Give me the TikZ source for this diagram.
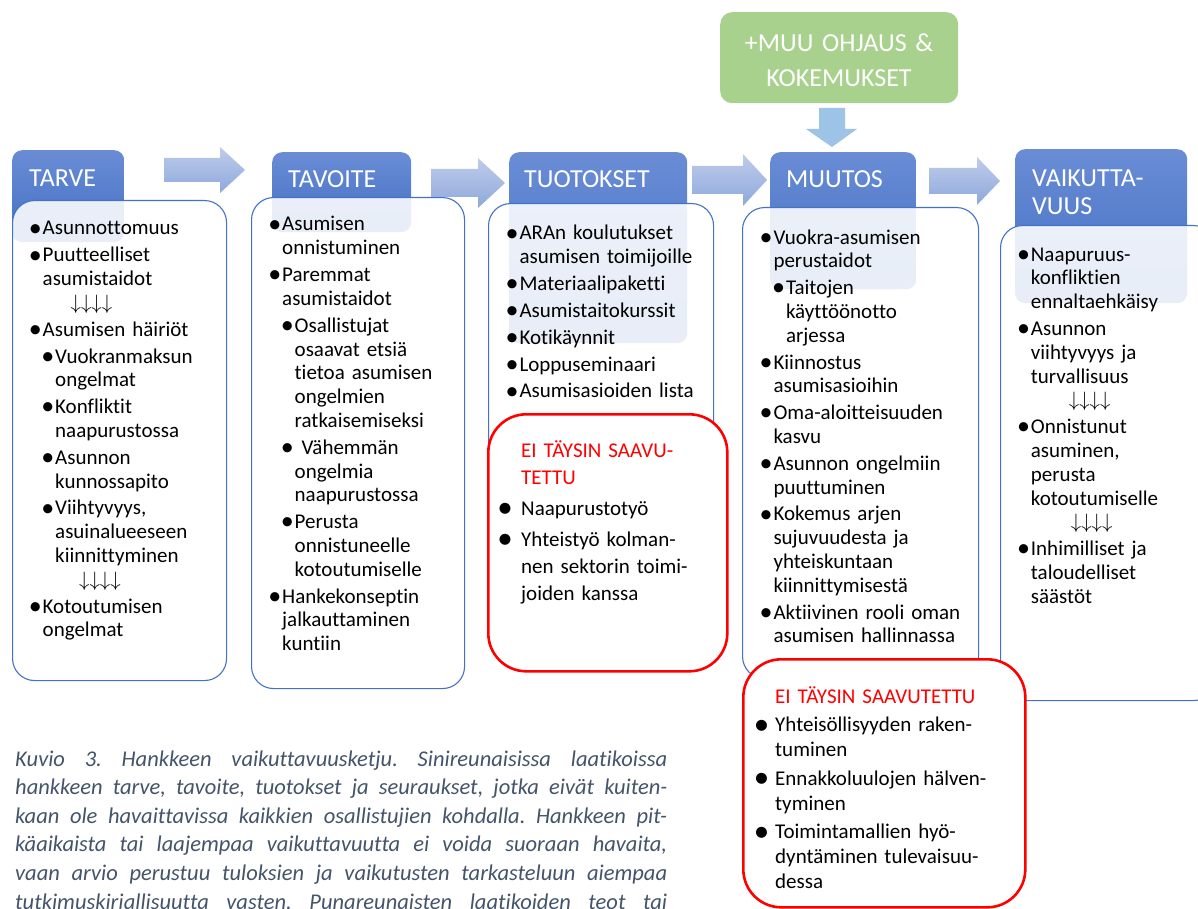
\documentclass[tikz,border=0pt]{standalone}
\usepackage{fontspec}
\setmainfont{Carlito}[Ligatures=NoCommon]
\usetikzlibrary{positioning}

\definecolor{tabtop}{HTML}{6A8CD5}
\definecolor{tabbot}{HTML}{4170C3}
\definecolor{bodyline}{HTML}{4472C4}
\definecolor{arrtop}{HTML}{BFCCEB}
\definecolor{arrbot}{HTML}{8EA8DB}
\definecolor{downarr}{HTML}{9DC3E6}
\definecolor{greenbox}{HTML}{A9D18E}
\definecolor{capcol}{HTML}{44546A}
\definecolor{eired}{HTML}{FF0000}

% bullet glyphs
\newcommand{\bul}{\raisebox{-1.3pt}{\fontsize{26}{26}\selectfont\textbullet}}
\newcommand{\rbul}{\raisebox{-2.5pt}{\fontsize{31}{31}\selectfont\textbullet}}
% bullet items: first, main level, sub level, red boxes
\newcommand{\fitm}{\leavevmode\hspace*{-7.3pt}\makebox[0pt]{\bul}\hspace*{7.3pt}\ignorespaces}
\newcommand{\itm}[1][7.3pt]{\par\noindent\hspace*{-#1}\makebox[0pt]{\bul}\hspace*{#1}\ignorespaces}
\newcommand{\sitm}[1][12.5pt]{\par\hangindent=#1\hangafter=0\noindent\hspace*{-7.3pt}\makebox[0pt]{\bul}\hspace*{7.3pt}\ignorespaces}
\newcommand{\ritm}[1]{\par\noindent\hspace*{-#1}\makebox[0pt]{\rbul}\hspace*{#1}\ignorespaces}
\newcommand{\dnarr}[1]{\newline\hspace*{#1}$\downarrow\downarrow\downarrow\downarrow$}
% shaded block arrow: tail x, head x, tip x, mid y, half shaft, half head
\newcommand{\blockarrow}[6]{%
  \shade[rarr] (#1,#4-#5) -- (#2,#4-#5) -- (#2,#4-#6) -- (#3,#4) -- (#2,#4+#6) -- (#2,#4+#5) -- (#1,#4+#5) -- cycle;}

\begin{document}
\begin{tikzpicture}[x=1pt, y=-1pt,
  tab/.style={anchor=north west, inner sep=0pt, rounded corners=10pt, top color=tabtop, bottom color=tabbot, draw=none},
  body/.style={anchor=north west, inner sep=0pt, draw=bodyline, line width=1.1pt, fill=white, fill opacity=0.88, rounded corners=22pt},
  redbox/.style={anchor=north west, inner sep=0pt, draw=eired, line width=2.6pt, fill=white, rounded corners=38pt},
  tabtxt/.style={anchor=base west, inner sep=0pt, text=white, align=left, font=\fontsize{26}{28}\selectfont},
  txt/.style={anchor=base west, inner sep=0pt, align=left, font=\fontsize{21}{23.8}\selectfont},
  redtxt/.style={txt, font=\fontsize{21}{27}\selectfont},
  captxt/.style={anchor=base west, inner sep=0pt, align=justify, text=capcol, font=\fontsize{22.5}{28.6}\selectfont\itshape\frenchspacing},
  rarr/.style={top color=arrtop, bottom color=arrbot, draw=none}
]
\useasboundingbox (0,0) rectangle (1198,909);
\fill[white] (0,0) rectangle (1198,909);

% header tabs
\node[tab, minimum width=112pt, minimum height=92pt] (tarveTab) at (12,150) {};
\node[tab, minimum width=139pt, minimum height=80pt] (tavoiteTab) at (272,152) {};
\node[tab, minimum width=178pt, minimum height=191pt] (tuotosTab) at (509,152) {};
\node[tab, minimum width=146pt, minimum height=137pt] (muutosTab) at (770,152) {};
\node[tab, minimum width=172pt, minimum height=154pt] (vaikTab) at (1015,149) {};

% body boxes
\node[body, minimum width=214pt, minimum height=480pt] (tarveBox) at (12,200) {};
\node[body, minimum width=213pt, minimum height=491pt] (tavoiteBox) at (251,197) {};
\node[body, minimum width=225pt, minimum height=457pt] (tuotosBox) at (488,203) {};
\node[body, minimum width=236pt, minimum height=471pt] (muutosBox) at (742,207) {};
\node[body, minimum width=215pt, minimum height=475pt] (vaikBox) at (1000,225) {};

% tab labels
\node[tabtxt] (tarveLbl) at (29,187) {TARVE};
\node[tabtxt] (tavoiteLbl) at (288,188) {TAVOITE};
\node[tabtxt] (tuotosLbl) at (524,188) {TUOTOKSET};
\node[tabtxt] (muutosLbl) at (786,188) {MUUTOS};
\node[tabtxt, text width=160pt] (vaikLbl) at (1032,187) {VAIKUTTA-\newline VUUS};

% block arrows between the columns
\blockarrow{164}{220}{245}{170}{12}{23}
\blockarrow{431}{478}{505}{183}{14}{25}
\blockarrow{692}{743}{767}{180}{14}{26}
\blockarrow{929}{977}{1000}{181}{13}{24}

% box texts
\node[txt, text width=190pt] (tarveTxt) at (42.5,235) {\parskip=3pt
\fitm Asunnottomuus
\itm Puutteelliset\newline asumistaidot\dnarr{28pt}
\itm Asumisen häiriöt
\sitm Vuokranmaksun\newline ongelmat
\sitm Konfliktit\newline naapurustossa
\sitm Asunnon\newline kunnossapito
\sitm Viihtyvyys,\newline asuinalueeseen\newline kiinnittyminen\dnarr{24pt}
\sitm Kotoutumisen\newline ongelmat};

\node[txt, text width=190pt] (tavoiteTxt) at (282,231) {\parskip=3pt
\fitm Asumisen\newline onnistuminen
\itm Paremmat\newline asumistaidot
\sitm Osallistujat\newline osaavat etsiä\newline tietoa asumisen\newline ongelmien\newline ratkaisemiseksi
\sitm\ Vähemmän\newline ongelmia\newline naapurustossa
\sitm Perusta\newline onnistuneelle\newline kotoutumiselle
\itm Hankekonseptin\newline jalkauttaminen\newline kuntiin};

\node[txt, text width=205pt] (tuotosTxt) at (519.3,240) {\parskip=3pt
\fitm ARAn koulutukset\newline asumisen toimijoille
\itm Materiaalipaketti
\itm Asumistaitokurssit
\itm Kotikäynnit
\itm Loppuseminaari
\itm Asumisasioiden lista};

\node[txt, text width=215pt] (muutosTxt) at (773.3,244) {\parskip=3pt
\fitm Vuokra-asumisen\newline perustaidot
\sitm Taitojen\newline käyttöönotto\newline arjessa
\itm Kiinnostus\newline asumisasioihin
\itm Oma-aloitteisuuden\newline kasvu
\itm Asunnon ongelmiin\newline puuttuminen
\itm Kokemus arjen\newline sujuvuudesta ja\newline yhteiskuntaan\newline kiinnittymisestä
\itm Aktiivinen rooli oman\newline asumisen hallinnassa};

\node[txt, text width=175pt] (vaikTxt) at (1030.7,261) {\parskip=3pt
\fitm Naapuruus-\newline konfliktien\newline ennaltaehkäisy
\itm Asunnon\newline viihtyvyys ja\newline turvallisuus\dnarr{38pt}
\itm Onnistunut\newline asuminen,\newline perusta\newline kotoutumiselle\dnarr{40pt}
\itm Inhimilliset ja\newline taloudelliset\newline säästöt};

% results not fully reached
\node[redbox, minimum width=239pt, minimum height=257pt] (tuotosRed) at (487,413) {};
\node[redtxt, text width=195pt] (tuotosRedTxt) at (521,457) {\parskip=4pt
\textcolor{eired}{EI TÄYSIN SAAVU-\newline TETTU}
\ritm{16pt} Naapurustotyö
\ritm{16pt} Yhteistyö kolman-\newline nen sektorin toimi-\newline joiden kanssa};

\node[redbox, minimum width=282pt, minimum height=248pt] (muutosRed) at (742,658) {};
\node[redtxt, text width=235pt, font=\fontsize{21}{25}\selectfont] (muutosRedTxt) at (775,703) {\parskip=3.5pt
\textcolor{eired}{EI TÄYSIN SAAVUTETTU}
\ritm{13.5pt} Yhteisöllisyyden raken-\newline tuminen
\ritm{13.5pt} Ennakkoluulojen hälven-\newline tyminen
\ritm{13.5pt} Toimintamallien hyö-\newline dyntäminen tulevaisuu-\newline dessa};

% other guidance
\node[anchor=north west, minimum width=238pt, minimum height=91pt, fill=greenbox, rounded corners=12pt, inner sep=0pt] (muuBox) at (720,12) {};
\node[anchor=base, text width=238pt, align=center, inner sep=0pt, text=white, font=\fontsize{26}{35}\selectfont] (muuTxt) at (839,52) {+MUU OHJAUS \&\\KOKEMUKSET};
\fill[downarr] (819,108) -- (845,108) -- (845,129) -- (857,129) -- (832,147) -- (806,129) -- (819,129) -- cycle;

% caption
\node[captxt, text width=652pt] (caption) at (15,766) {%
Kuvio 3. Hankkeen vaikuttavuusketju. Sinireunaisissa laatikoissa\linebreak
hankkeen tarve, tavoite, tuotokset ja seuraukset, jotka eivät kuiten-\linebreak
kaan ole havaittavissa kaikkien osallistujien kohdalla. Hankkeen pit-\linebreak
käaikaista tai laajempaa vaikuttavuutta ei voida suoraan havaita,\linebreak
vaan arvio perustuu tuloksien ja vaikutusten tarkasteluun aiempaa\linebreak
tutkimuskirjallisuutta vasten. Punareunaisten laatikoiden teot tai\linebreak};
\end{tikzpicture}
\end{document}
